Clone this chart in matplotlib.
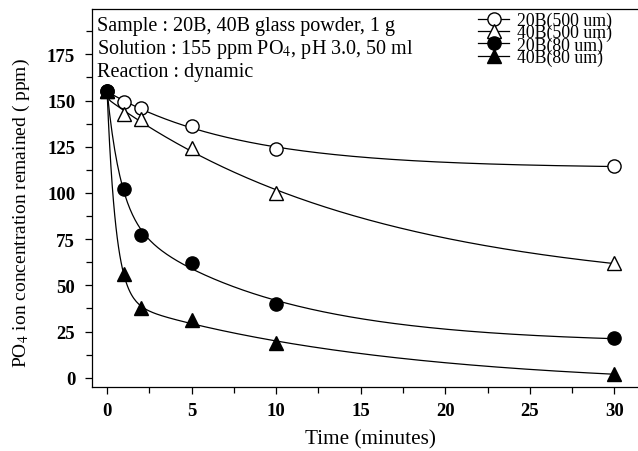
import numpy as np
import matplotlib
matplotlib.use("Agg")
import matplotlib.pyplot as plt
from matplotlib.ticker import MultipleLocator

plt.rcParams['font.family'] = ['Liberation Serif', 'DejaVu Serif']
plt.rcParams['mathtext.fontset'] = 'stix'

time_min = [0, 1, 2, 5, 10, 30]
b20_500 = [155, 149, 146, 136, 124, 114.5]
b40_500 = [155, 142.5, 140, 124.5, 100, 62]
b20_80 = [155, 102, 77.5, 62, 40, 21.5]
b40_80 = [155, 56, 37.5, 31, 19, 2]

labels = ['20B(500 um)', '40B(500 um)', '20B(80 um)', '40B(80 um)']
series = [b20_500, b40_500, b20_80, b40_80]
markers = ['o', '^', 'o', '^']
faces = ['white', 'white', 'black', 'black']


def fit_curve(t, y):
    # y = c + a*exp(-k1 t) + b*exp(-k2 t), least squares over a grid of rates
    t = np.asarray(t, float)
    y = np.asarray(y, float)
    best = None
    for k1 in np.logspace(-1, 1.3, 60):
        for k2 in np.logspace(-3, -0.2, 60):
            if k2 >= k1:
                continue
            A = np.column_stack([np.ones_like(t), np.exp(-k1 * t), np.exp(-k2 * t)])
            coef, *_ = np.linalg.lstsq(A, y, rcond=None)
            if coef[1] < 0 or coef[2] < 0:
                continue
            err = np.sum((A @ coef - y) ** 2)
            if best is None or err < best[0]:
                best = (err, k1, k2, coef)
    _, k1, k2, coef = best
    return lambda tt: coef[0] + coef[1] * np.exp(-k1 * tt) + coef[2] * np.exp(-k2 * tt)


fig = plt.figure(figsize=(6.38, 4.52), dpi=100)
ax = fig.add_axes([0.144, 0.1416, 0.856, 0.8362])

tt = np.linspace(0, 30, 400)
for y, lab, m, fc in zip(series, labels, markers, faces):
    f = fit_curve(time_min, y)
    ax.plot(tt, f(tt), color='black', lw=0.9, zorder=2)
    ax.plot(time_min, y, linestyle='none', marker=m, markersize=9.5,
            markerfacecolor=fc, markeredgecolor='black', markeredgewidth=1.0,
            zorder=3, clip_on=False)
    ax.plot([], [], color='black', lw=0.9, marker=m, markersize=9.5,
            markerfacecolor=fc, markeredgecolor='black', markeredgewidth=1.0,
            label=lab)

ax.set_xlim(-0.9, 31.4)
ax.set_ylim(-5, 199.5)
ax.xaxis.set_major_locator(MultipleLocator(5))
ax.xaxis.set_minor_locator(MultipleLocator(2.5))
ax.set_yticks([0, 25, 50, 75, 100, 125, 150, 175])
ax.set_yticks(np.arange(12.5, 190, 25), minor=True)
ax.tick_params(direction='out', length=5, width=0.9, labelsize=13.5)
ax.tick_params(axis='y', pad=7)
ax.tick_params(axis='x', pad=6)
ax.tick_params(which='minor', direction='out', length=4, width=0.9)
for lb in ax.get_xticklabels() + ax.get_yticklabels():
    lb.set_fontweight('bold')
ax.spines['right'].set_visible(False)
for s in ['left', 'bottom', 'top']:
    ax.spines[s].set_linewidth(0.9)

ax.set_xlabel('Time (minutes)', fontsize=15.3)
ax.xaxis.set_label_coords(0.51, -0.113)
ax.set_ylabel('PO$_4$ ion concentration remained ( ppm)', fontsize=14)
ax.yaxis.set_label_coords(-0.11, 0.463)

info = ['Sample : 20B, 40B glass powder, 1 g',
        'Solution : 155 ppm PO$_4$, pH 3.0, 50 ml',
        'Reaction : dynamic']
ax.text(0.01, 0.982, '\n'.join(info), transform=ax.transAxes, fontsize=14.5,
        va='top', ha='left', linespacing=1.13)

ax.legend(loc='upper left', bbox_to_anchor=(0.707, 0.993), frameon=False,
          fontsize=12.8, labelspacing=-0.28, handlelength=1.75, handletextpad=0.45,
          borderpad=0, borderaxespad=0)

fig.savefig('out.png', dpi=100)
